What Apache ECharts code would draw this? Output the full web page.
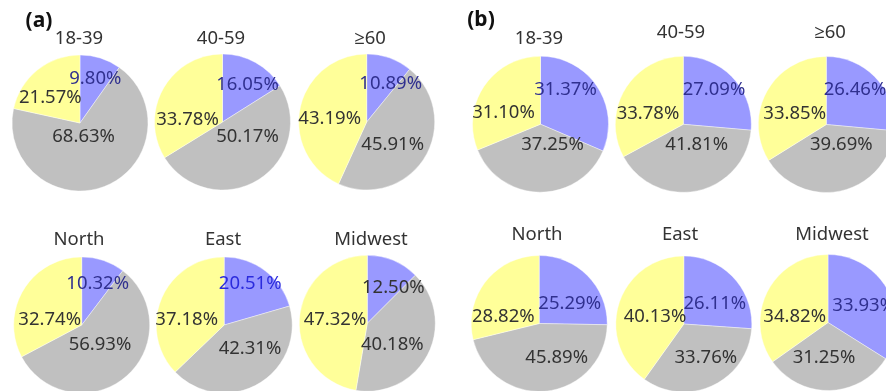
<!DOCTYPE html>
<html>
<head>
<meta charset="utf-8">
<script src="https://cdn.jsdelivr.net/npm/echarts@6/dist/echarts.min.js"></script>
<style>
  html, body { margin: 0; padding: 0; background: #fff; }
  #chart { width: 886px; height: 391px; }
</style>
</head>
<body>
<div id="chart"></div>
<script>
// Group names, one pie per group in each panel
const groupNames = ['18-39', '40-59', '≥60', 'North', 'East', 'Midwest'];
const panelNames = ['(a)', '(b)'];

// Panel (a): share of each category per group (%)
const blueA   = [9.80, 16.05, 10.89, 10.32, 20.51, 12.50];
const grayA   = [68.63, 50.17, 45.91, 56.93, 42.31, 40.18];
const yellowA = [21.57, 33.78, 43.19, 32.74, 37.18, 47.32];

// Panel (b): share of each category per group (%)
const blueB   = [31.37, 27.09, 26.46, 25.29, 26.11, 33.93];
const grayB   = [37.25, 41.81, 39.69, 45.89, 33.76, 31.25];
const yellowB = [31.10, 33.78, 33.85, 28.82, 40.13, 34.82];

// ---- layout ----
const FONT = '"Noto Sans", "Open Sans", sans-serif';
const FONT_WEIGHT = 'normal';
const FONT_SIZE = 18.5;
const RADIUS = 68;
const COLORS = ['#9999ff', '#c0c0c0', '#ffff99'];

const pieCenters = [
  [[80, 123], [222.5, 122], [366.7, 122], [81.7, 325], [224.2, 325], [367.3, 323.3]],
  [[540.5, 124.2], [683.3, 124.3], [826.3, 124.5], [539.2, 323.5], [683.8, 324], [828, 322.5]]
];
const titlePos = [
  [[79, 39], [221, 39], [370, 39], [79, 240], [223, 240], [371, 240]],
  [[539, 39], [681, 33], [830, 33], [537, 235], [680, 235], [832, 235]]
];
const panelLabelPos = [[39, 21], [481, 20]];

// label placement relative to each pie centre: [blue, gray, yellow]
const labelOffsets = [
  [
    [[15.3, -44.3], [3.6, 13.7], [-29.7, -25]],
    [[25, -37], [25, 15], [-35, -2]],
    [[24, -38.5], [26, 23], [-37, -3.5]],
    [[16, -41.7], [18.3, 20], [-32, -5]],
    [[26, -41.7], [25.8, 23.3], [-37.5, -5]],
    [[26, -36], [25, 21.7], [-32.3, -3.3]]
  ],
  [
    [[25, -34], [12, 21], [-37, -11]],
    [[30.7, -34.3], [13.4, 20.7], [-35.3, -11]],
    [[28.7, -34.5], [15, 20.7], [-31.6, -11]],
    [[30.5, -20.2], [17.5, 33.8], [-35.9, -6.8]],
    [[31, -20.2], [22, 33.8], [-28.8, -6.8]],
    [[35.7, -16.5], [-4, 34.8], [-33.3, -5.8]]
  ]
];
// colour of the percentage text on the blue slice
const blueLabelColors = [
  ['#30308f', '#30308f', '#30308f', '#30308f', '#2b2bdd', '#333333'],
  ['#30308f', '#30308f', '#30308f', '#30308f', '#30308f', '#30308f']
];

const panels = [
  [blueA, grayA, yellowA],
  [blueB, grayB, yellowB]
];

const series = [];
const graphics = [];

panels.forEach((cats, p) => {
  graphics.push({
    type: 'text',
    x: panelLabelPos[p][0], y: panelLabelPos[p][1],
    style: {
      text: panelNames[p], fontFamily: '"Noto Sans", sans-serif', fontWeight: 'bold',
      fontSize: 21, fill: '#111', align: 'center', verticalAlign: 'middle'
    }
  });
  groupNames.forEach((name, g) => {
    const [cx, cy] = pieCenters[p][g];
    const offs = labelOffsets[p][g];
    graphics.push({
      type: 'text',
      x: titlePos[p][g][0], y: titlePos[p][g][1],
      style: {
        text: name, fontFamily: FONT, fontWeight: FONT_WEIGHT, fontSize: FONT_SIZE, fill: '#333',
        align: 'center', verticalAlign: 'middle'
      }
    });
    series.push({
      type: 'pie',
      name: panelNames[p] + ' ' + name,
      center: [cx, cy],
      radius: RADIUS,
      startAngle: 90,
      clockwise: true,
      silent: true,
      animation: false,
      itemStyle: { borderColor: '#ffffff', borderWidth: 0.4 },
      label: {
        show: true,
        position: 'inside',
        fontFamily: FONT,
        fontWeight: FONT_WEIGHT,
        fontSize: FONT_SIZE,
        color: '#333333',
        formatter: (prm) => prm.value.toFixed(2) + '%'
      },
      labelLine: { show: false },
      emphasis: { disabled: true },
      labelLayout: (prm) => {
        const o = offs[prm.dataIndex];
        return { x: cx + o[0], y: cy + o[1], align: 'center', verticalAlign: 'middle' };
      },
      data: cats.map((vals, k) => ({
        value: vals[g],
        itemStyle: { color: COLORS[k] },
        label: k === 0 ? { color: blueLabelColors[p][g] } : {}
      }))
    });
  });
});

const chart = echarts.init(document.getElementById('chart'), null, { renderer: 'canvas' });
chart.setOption({
  backgroundColor: '#ffffff',
  animation: false,
  series: series,
  graphic: graphics
});
</script>
</body>
</html>
